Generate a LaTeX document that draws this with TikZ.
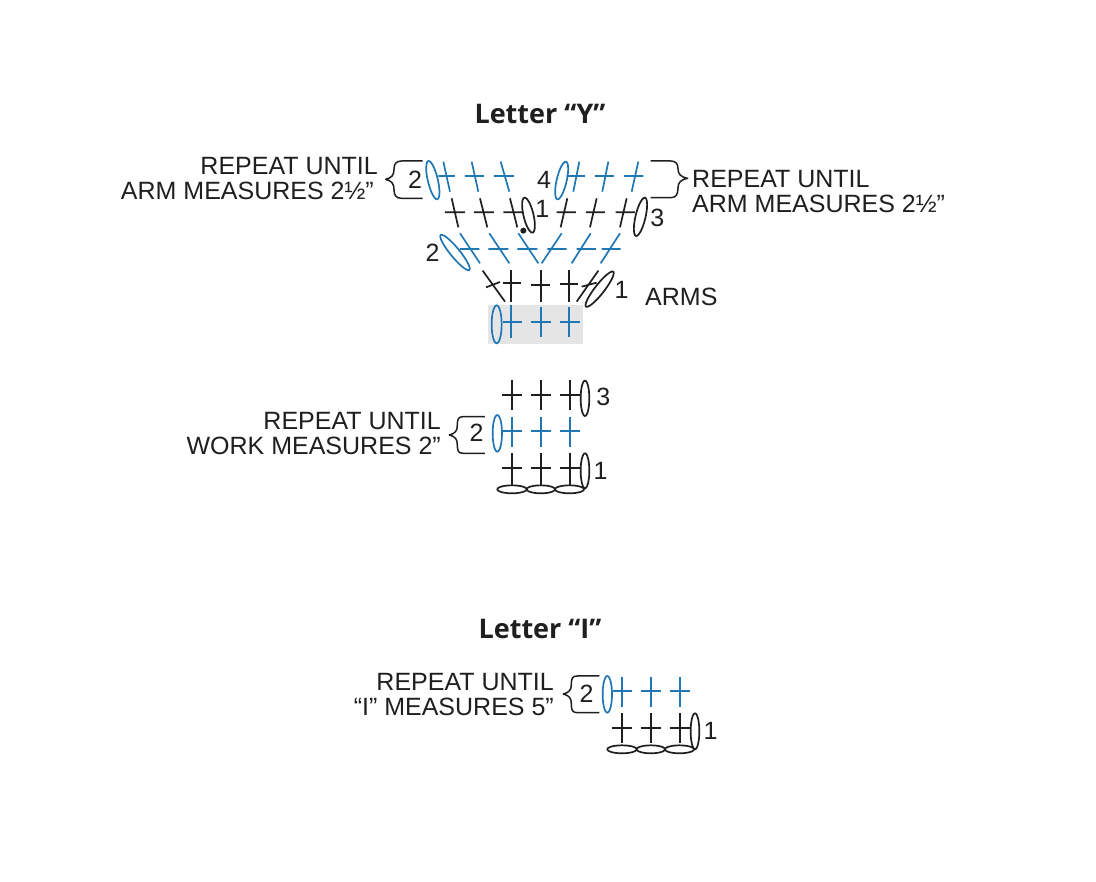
\documentclass[tikz,border=0pt]{standalone}
\usepackage{fontspec}
\setmainfont{Liberation Sans}
\newfontfamily\titlefont{Open Sans}
\definecolor{stblue}{HTML}{1F78B4}
\definecolor{stblack}{HTML}{1F1F1F}
\definecolor{stgrey}{HTML}{E5E5E6}
\tikzset{
  bk/.style={draw=stblack,line width=1.7pt},
  bl/.style={draw=stblue,line width=1.7pt},
  brk/.style={draw=stblack,line width=1.5pt,line join=round},
  lab/.style={font=\fontsize{25}{25}\selectfont,text=stblack,inner sep=0pt},
  num/.style={font=\fontsize{25}{25}\selectfont,text=stblack,inner sep=0pt},
  ttl/.style={font=\titlefont\bfseries\fontsize{27}{27}\selectfont,text=stblack,inner sep=0pt}
}
% oval between two end points: x1 y1 x2 y2 halfwidth style
\newcommand\ov[6]{%
  \pgfmathsetmacro\ocx{(#1+#3)/2}\pgfmathsetmacro\ocy{(#2+#4)/2}%
  \pgfmathsetmacro\odx{(#3-#1)/2}\pgfmathsetmacro\ody{(#4-#2)/2}%
  \pgfmathsetmacro\olen{veclen(\odx,\ody)}%
  \pgfmathsetmacro\onx{-\ody/\olen*#5}\pgfmathsetmacro\ony{\odx/\olen*#5}%
  \draw[#6] plot[domain=0:345,samples=24,smooth cycle,variable=\t]
    ({\ocx+\odx*cos(\t)+\onx*sin(\t)},{\ocy+\ody*cos(\t)+\ony*sin(\t)});}
% stitch: x1 y1 x2 y2 (post), hx1 hy1 hx2 hy2 (bar), style
\newcommand\st[9]{\draw[#9] (#1,#2) -- (#3,#4) (#5,#6) -- (#7,#8);}
% upright stitch: x top bottom left right ybar style
\newcommand\up[7]{\draw[#7] (#1,#2) -- (#1,#3) (#4,#6) -- (#5,#6);}
\begin{document}
\begin{tikzpicture}[x=1pt,y=-1pt]
\useasboundingbox (0,0) rectangle (1096,882);
\fill[white] (0,0) rectangle (1096,882);
\fill[stgrey] (488,305) rectangle (583,344);

\node[ttl] (ty) at (540,113.5) {Letter “Y”};
\node[ttl] (ti) at (540,628.5) {Letter “I”};

\node[lab,anchor=base east] (l1a) at (378,175) {REPEAT UNTIL};
\node[lab,anchor=base east] (l1b) at (374,200) {ARM MEASURES 2½”};
\node[lab,anchor=base west] (l2a) at (692,188) {REPEAT UNTIL};
\node[lab,anchor=base west] (l2b) at (692,213) {ARM MEASURES 2½”};
\node[lab,anchor=base west] (l3) at (645,306) {ARMS};
\node[lab,anchor=base east] (l4a) at (441,430) {REPEAT UNTIL};
\node[lab,anchor=base east] (l4b) at (441,455) {WORK MEASURES 2”};
\node[lab,anchor=base east] (l5a) at (554,690) {REPEAT UNTIL};
\node[lab,anchor=base east] (l5b) at (554,715) {“I” MEASURES 5”};

% ---- Y chart, in zoom units
\begin{scope}[x=0.33333pt,y=-0.33333pt,shift={(1230,450)}]
 % top blue row
 \ov{55}{33}{82}{148}{15}{bl}
 \st{100}{35}{120}{125}{85}{78}{135}{78}{bl}
 \st{185}{35}{205}{125}{165}{78}{222}{78}{bl}
 \st{272}{35}{298}{125}{252}{78}{312}{78}{bl}
 \ov{468}{35}{442}{148}{15}{bl}
 \st{508}{35}{490}{125}{470}{78}{525}{78}{bl}
 \st{595}{35}{577}{125}{555}{78}{612}{78}{bl}
 \st{685}{35}{665}{125}{642}{78}{700}{78}{bl}
 % black row
 \st{125}{145}{145}{232}{105}{187}{165}{187}{bk}
 \st{210}{145}{232}{232}{192}{187}{252}{187}{bk}
 \st{300}{145}{322}{232}{280}{187}{340}{187}{bk}
 \ov{343}{143}{368}{248}{15}{bk}
 \st{472}{145}{452}{232}{440}{187}{498}{187}{bk}
 \st{560}{145}{540}{232}{528}{187}{585}{187}{bk}
 \st{650}{145}{630}{232}{617}{187}{675}{187}{bk}
 \ov{705}{143}{678}{258}{15}{bk}
 \fill[stblack] (340,242) circle (9);
 % blue row
 \ov{92}{255}{178}{360}{14}{bl}
 \st{150}{250}{210}{340}{150}{297}{208}{297}{bl}
 \st{238}{250}{298}{340}{235}{297}{295}{297}{bl}
 \st{325}{250}{385}{340}{322}{297}{382}{297}{bl}
 \st{455}{250}{395}{340}{412}{297}{470}{297}{bl}
 \st{542}{250}{485}{340}{500}{297}{558}{297}{bl}
 \st{630}{250}{572}{340}{575}{297}{632}{297}{bl}
 % black row 1
 \st{218}{362}{285}{455}{228}{412}{270}{396}{bk}
 \up{302}{360}{455}{280}{332}{400}{bk}
 \up{392}{360}{455}{362}{420}{405}{bk}
 \up{478}{360}{455}{450}{505}{402}{bk}
 \st{565}{362}{500}{455}{515}{410}{560}{398}{bk}
 \ov{610}{365}{528}{470}{14}{bk}
 % base blue row
 \ov{260}{466}{260}{580}{15}{bl}
 \up{303}{465}{565}{280}{335}{515}{bl}
 \up{392}{470}{562}{362}{422}{515}{bl}
 \up{478}{470}{562}{450}{510}{515}{bl}
 % numbers
 \node[num] (n4) at (402,90) {4};
 \node[num] (n1a) at (397,178) {1};
 \node[num] (n3) at (742,205) {3};
 \node[num] (n2) at (68,308) {2};
 \node[num] (n1b) at (635,420) {1};
\end{scope}

% left brace of the top row (crop origin 370,150)
\begin{scope}[x=0.33333pt,y=-0.33333pt,shift={(1110,450)}]
 \node[num] (n2a) at (135,90) {2};
 \draw[brk] (158,33) -- (95,33) .. controls (78,33) and (72,42) .. (72,58) .. controls (72,75) and (65,84) .. (47,88) .. controls (65,92) and (72,102) .. (72,118) .. controls (72,136) and (78,145) .. (95,145) -- (158,145);
\end{scope}
% right brace of the top row (crop origin 640,150)
\begin{scope}[x=0.33333pt,y=-0.33333pt,shift={(1920,450)}]
 \draw[brk] (32,33) -- (92,33) .. controls (108,33) and (114,42) .. (114,56) .. controls (114,72) and (122,81) .. (143,85) .. controls (122,89) and (114,98) .. (114,114) .. controls (114,134) and (108,143) .. (92,143) -- (32,143);
\end{scope}

% ---- middle chart
\begin{scope}[x=0.33333pt,y=-0.33333pt,shift={(1320,1110)}]
 \up{215}{30}{120}{185}{245}{75}{bk}
 \up{302}{30}{120}{272}{332}{75}{bk}
 \up{390}{30}{120}{360}{420}{75}{bk}
 \ov{435}{32}{435}{138}{13}{bk}
 \node[num] (m3) at (490,82) {3};
 \ov{172}{135}{172}{245}{14}{bl}
 \up{215}{140}{232}{188}{245}{182}{bl}
 \up{302}{140}{230}{272}{332}{182}{bl}
 \up{390}{140}{230}{360}{420}{182}{bl}
 \node[num] (m2) at (110,188) {2};
 \draw[brk] (135,140) -- (70,140) .. controls (55,140) and (52,147) .. (52,165) .. controls (52,183) and (46,190) .. (28,195) .. controls (46,200) and (52,207) .. (52,225) .. controls (52,243) and (55,250) .. (70,250) -- (135,250);
 \up{215}{250}{345}{185}{245}{295}{bk}
 \up{302}{250}{345}{272}{332}{295}{bk}
 \up{390}{250}{345}{360}{420}{295}{bk}
 \ov{435}{250}{435}{355}{13}{bk}
 \node[num] (m1) at (482,302) {1};
 \ov{172}{358}{260}{358}{12}{bk}
 \ov{260}{358}{345}{358}{12}{bk}
 \ov{345}{358}{432}{358}{12}{bk}
\end{scope}

% ---- I chart
\begin{scope}[x=0.33333pt,y=-0.33333pt,shift={(1650,1980)}]
 \ov{172}{48}{172}{158}{14}{bl}
 \up{215}{50}{140}{188}{245}{93}{bl}
 \up{302}{50}{140}{272}{332}{93}{bl}
 \up{390}{50}{140}{360}{420}{93}{bl}
 \node[num] (i2) at (110,100) {2};
 \draw[brk] (148,48) -- (82,48) .. controls (67,48) and (64,55) .. (64,73) .. controls (64,90) and (58,97) .. (40,102) .. controls (58,107) and (64,114) .. (64,132) .. controls (64,150) and (67,158) .. (82,158) -- (148,158);
 \up{215}{160}{250}{185}{245}{205}{bk}
 \up{302}{160}{250}{272}{332}{205}{bk}
 \up{390}{160}{250}{360}{420}{205}{bk}
 \ov{435}{160}{435}{268}{13}{bk}
 \node[num] (i1) at (482,212) {1};
 \ov{172}{268}{260}{268}{12}{bk}
 \ov{260}{268}{345}{268}{12}{bk}
 \ov{345}{268}{432}{268}{12}{bk}
\end{scope}
\end{tikzpicture}
\end{document}
